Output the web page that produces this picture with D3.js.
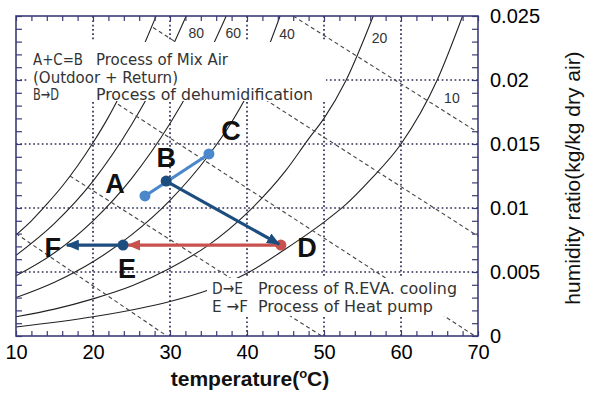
<!DOCTYPE html>
<html>
<head>
<meta charset="utf-8">
<script src="https://cdn.jsdelivr.net/npm/d3@7"></script>
<style>
  body { margin: 0; background: #fff; }
  svg { display: block; font-family: "Liberation Sans", Arial, sans-serif; }
</style>
</head>
<body>
<div id="chart"></div>
<script>
// relative humidity curves, [temperature °C, humidity ratio]
const rh100 = [[10,0.0079],[12,0.0090],[14,0.0103],[16,0.0117],[18,0.0133],[20,0.0151],[22,0.0171],[24,0.0194],[26,0.0219],[28.2,0.0250]];
const rh80  = [[10,0.0063],[15,0.0088],[20,0.0121],[25,0.0165],[28,0.0197],[30,0.0222],[32.1,0.0250]];
const rh60  = [[10,0.0047],[15,0.0065],[20,0.0090],[25,0.0123],[30,0.0166],[33,0.0197],[35,0.0220],[37.3,0.0250]];
const rh40  = [[10,0.0030],[15,0.0042],[20,0.0058],[25,0.0079],[30,0.0106],[35,0.0141],[38,0.0167],[40,0.0188],[42,0.0214],[44.3,0.0250]];
const rh20  = [[10,0.0015],[15,0.0021],[20,0.0029],[25,0.0039],[30,0.0053],[35,0.0071],[40,0.0096],[45,0.0129],[48,0.0154],[50,0.0170],[52.8,0.0199],[56.4,0.0250]];
const rh10  = [[10,0.0007],[20,0.0015],[30,0.0027],[35,0.0036],[40,0.0049],[45,0.0068],[50,0.0089],[52.7,0.0102],[56,0.0122],[60,0.0150],[64.7,0.0200],[68,0.0250]];
const rhCurves = [rh100, rh80, rh60, rh40, rh20, rh10];

const rhLabels = ['80', '60', '40', '20', '10'];

// wet bulb lines (dashed), start and end
const wetBulb = [
  [[46.0,0.0250],[70,0.0159]],
  [[27.8,0.0241],[70,0.0078]],
  [[23.25,0.0181],[69.6,0]],
  [[17.0,0.0125],[49.7,0]],
  [[10.0,0.0080],[29.6,0]]
];

// state points
const stateNames = ['A', 'B', 'C', 'D', 'E', 'F'];
const stateT = [26.75, 29.5, 35.06, 44.4, 23.9, 16.6];
const stateW = [0.01094, 0.0121, 0.01422, 0.0071, 0.0071, 0.0071];

const xTicks = [10, 20, 30, 40, 50, 60, 70];
const yTicks = [0, 0.005, 0.01, 0.015, 0.02, 0.025];

const notesTop = [['A+C=B', 'Process of Mix Air'], ['(Outdoor + Return)', ''], ['B\u2192D', 'Process of dehumidification']];
const notesBottom = [['D\u2192E', 'Process of R.EVA. cooling'], ['E \u2192F', 'Process of Heat pump']];

const svgWidth = 589, svgHeight = 394;
const margin = { top: 16, right: 111, bottom: 58, left: 16 };
const width = svgWidth - margin.left - margin.right,
      height = svgHeight - margin.top - margin.bottom;

const frameColor = '#3b3b78',
      lightBlue = '#4a88cb',
      darkBlue = '#1c4d7e',
      red = '#c8504d';

const svg = d3.select('#chart')
              .append('svg')
              .attr('width', svgWidth)
              .attr('height', svgHeight);

const x = d3.scaleLinear().domain([10, 70]).range([margin.left, margin.left + width]);
const y = d3.scaleLinear().domain([0, 0.025]).range([margin.top + height, margin.top]);

svg.append('clipPath').attr('id', 'plot-clip')
   .append('rect')
   .attr('x', x(10)).attr('y', y(0.025))
   .attr('width', width).attr('height', height);

const plot = svg.append('g').attr('clip-path', 'url(#plot-clip)');

// dotted grid
plot.append('g')
    .selectAll('line')
    .data(xTicks.slice(1, -1))
    .enter().append('line')
    .attr('x1', d => x(d)).attr('x2', d => x(d))
    .attr('y1', y(0)).attr('y2', y(0.025))
    .attr('stroke', '#2f2f5a').attr('stroke-width', 1.7)
    .attr('stroke-dasharray', '1.7,2.6');

plot.append('g')
    .selectAll('line')
    .data(yTicks.slice(1, -1))
    .enter().append('line')
    .attr('x1', x(10)).attr('x2', x(70))
    .attr('y1', d => y(d)).attr('y2', d => y(d))
    .attr('stroke', '#2f2f5a').attr('stroke-width', 1.7)
    .attr('stroke-dasharray', '1.7,2.6');

// RH curves
const line = d3.line()
               .x(d => x(d[0]))
               .y(d => y(d[1]))
               .curve(d3.curveMonotoneX);

plot.append('g')
    .selectAll('path')
    .data(rhCurves)
    .enter().append('path')
    .attr('d', line)
    .attr('fill', 'none')
    .attr('stroke', '#222')
    .attr('stroke-width', 1.1);

// wet bulb lines
plot.append('g')
    .selectAll('path')
    .data(wetBulb)
    .enter().append('path')
    .attr('d', d3.line().x(d => x(d[0])).y(d => y(d[1])))
    .attr('fill', 'none')
    .attr('stroke', '#444')
    .attr('stroke-width', 1.1)
    .attr('stroke-dasharray', '4,3');

// rh labels
const rhLabelPos = [[32.4, 0.0233], [37.2, 0.0233], [44.2, 0.0232], [56.2, 0.0229], [65.6, 0.0182]];
svg.append('g')
   .selectAll('text')
   .data(rhLabels)
   .enter().append('text')
   .attr('x', (d, i) => x(rhLabelPos[i][0]))
   .attr('y', (d, i) => y(rhLabelPos[i][1]))
   .attr('font-size', 14)
   .attr('fill', '#333')
   .text(d => d);

// white boxes behind notes
svg.append('rect').attr('x', 27).attr('y', 42).attr('width', 299).attr('height', 59).attr('fill', '#fff');
svg.append('rect').attr('x', 207).attr('y', 278).attr('width', 254).attr('height', 38).attr('fill', '#fff');

function note(g, s, px, py, len) {
  g.append('text')
   .attr('x', px).attr('y', py)
   .attr('textLength', len)
   .attr('lengthAdjust', 'spacingAndGlyphs')
   .text(s);
}

const noteTop = svg.append('g')
                   .attr('font-size', 16)
                   .attr('font-family', '"DejaVu Sans", sans-serif')
                   .attr('fill', '#333');
const topRows = [65, 82.5, 100];
const topLens = [[50, 132], [145, 0], [26, 217]];
notesTop.forEach((n, i) => {
  note(noteTop, n[0], 33, topRows[i], topLens[i][0]);
  if (n[1]) note(noteTop, n[1], 96, topRows[i], topLens[i][1]);
});

const noteBottom = svg.append('g')
                      .attr('font-size', 16)
                      .attr('font-family', '"DejaVu Sans", sans-serif')
                      .attr('fill', '#333');
const bottomRows = [294, 312];
const bottomLens = [[31, 199], [36, 175]];
notesBottom.forEach((n, i) => {
  note(noteBottom, n[0], 212, bottomRows[i], bottomLens[i][0]);
  note(noteBottom, n[1], 258, bottomRows[i], bottomLens[i][1]);
});

// arrow markers
const defs = svg.append('defs');
[['arrow-dark', darkBlue], ['arrow-red', red]].forEach(([id, c]) => {
  defs.append('marker')
      .attr('id', id)
      .attr('markerUnits', 'userSpaceOnUse')
      .attr('markerWidth', 13).attr('markerHeight', 11)
      .attr('refX', 12).attr('refY', 5.5)
      .attr('orient', 'auto')
      .append('path')
      .attr('d', 'M0,0 L13,5.5 L0,11 Z')
      .attr('fill', c);
});

const P = stateNames.map((n, i) => ({ name: n, px: x(stateT[i]), py: y(stateW[i]) }));
const pt = n => P[stateNames.indexOf(n)];

function shorten(a, b, r) {
  const dx = b.px - a.px, dy = b.py - a.py, len = Math.hypot(dx, dy);
  return { x: b.px - dx / len * r, y: b.py - dy / len * r };
}

const proc = svg.append('g');

// mixing line A - C
proc.append('line')
    .attr('x1', pt('A').px).attr('y1', pt('A').py)
    .attr('x2', pt('C').px).attr('y2', pt('C').py)
    .attr('stroke', lightBlue).attr('stroke-width', 3.2);

// D -> E
const deEnd = shorten(pt('D'), pt('E'), 5);
proc.append('line')
    .attr('x1', pt('D').px).attr('y1', pt('D').py)
    .attr('x2', deEnd.x).attr('y2', deEnd.y)
    .attr('stroke', red).attr('stroke-width', 3.2)
    .attr('marker-end', 'url(#arrow-red)');

// E -> F
proc.append('line')
    .attr('x1', pt('E').px).attr('y1', pt('E').py)
    .attr('x2', pt('F').px).attr('y2', pt('F').py)
    .attr('stroke', darkBlue).attr('stroke-width', 3.2)
    .attr('marker-end', 'url(#arrow-dark)');

const dotColor = { A: lightBlue, B: darkBlue, C: lightBlue, D: red, E: darkBlue };
proc.selectAll('circle')
    .data(P.filter(p => p.name !== 'F'))
    .enter().append('circle')
    .attr('cx', d => d.px).attr('cy', d => d.py)
    .attr('r', 5.5)
    .attr('fill', d => dotColor[d.name]);

// B -> D
const bdEnd = shorten(pt('B'), pt('D'), 2);
proc.append('line')
    .attr('x1', pt('B').px).attr('y1', pt('B').py)
    .attr('x2', bdEnd.x).attr('y2', bdEnd.y)
    .attr('stroke', darkBlue).attr('stroke-width', 3.2)
    .attr('marker-end', 'url(#arrow-dark)');

// point letters
const letterOffset = { A: [-30, -3], B: [0, -14], C: [22, -14], D: [26, 12], E: [4, 33], F: [-14, 12] };
svg.append('g')
   .selectAll('text')
   .data(P)
   .enter().append('text')
   .attr('x', d => d.px + letterOffset[d.name][0])
   .attr('y', d => d.py + letterOffset[d.name][1])
   .attr('text-anchor', 'middle')
   .attr('font-size', 27)
   .attr('font-weight', 'bold')
   .attr('fill', '#111')
   .text(d => d.name);

// frame and inward ticks
const tickStyle = g => {
  g.select('.domain').remove();
  g.selectAll('line').attr('stroke', frameColor).attr('stroke-width', 1.2);
};

svg.append('g').attr('transform', `translate(0,${y(0)})`)
   .call(d3.axisBottom(x).tickValues(d3.range(10, 71, 2)).tickSize(-5).tickFormat(''))
   .call(tickStyle);
svg.append('g').attr('transform', `translate(0,${y(0.025)})`)
   .call(d3.axisTop(x).tickValues(d3.range(10, 71, 2)).tickSize(-5).tickFormat(''))
   .call(tickStyle);
svg.append('g').attr('transform', `translate(${x(10)},0)`)
   .call(d3.axisLeft(y).tickValues(d3.range(0, 26).map(i => i / 1000)).tickSize(-6).tickFormat(''))
   .call(tickStyle);
svg.append('g').attr('transform', `translate(${x(70)},0)`)
   .call(d3.axisRight(y).tickValues(d3.range(0, 26).map(i => i / 1000)).tickSize(-6).tickFormat(''))
   .call(tickStyle);

svg.append('rect')
   .attr('x', x(10)).attr('y', y(0.025))
   .attr('width', width).attr('height', height)
   .attr('fill', 'none')
   .attr('stroke', frameColor)
   .attr('stroke-width', 1.6);

// tick labels
const xAxis = svg.append('g').attr('transform', `translate(0,${y(0)})`)
   .call(d3.axisBottom(x).tickValues(xTicks).tickSize(0).tickPadding(9).tickFormat(d3.format('d')));
xAxis.select('.domain').remove();
xAxis.selectAll('text').attr('font-size', 20).attr('fill', '#000')
     .attr('font-family', '"Liberation Sans", Arial, sans-serif');

const yAxis = svg.append('g').attr('transform', `translate(${x(70)},0)`)
   .call(d3.axisRight(y).tickValues(yTicks).tickSize(0).tickPadding(12).tickFormat(d => d === 0 ? '0' : d3.format('.3~f')(d)));
yAxis.select('.domain').remove();
yAxis.selectAll('text').attr('font-size', 20).attr('fill', '#000')
     .attr('font-family', '"Liberation Sans", Arial, sans-serif');

// axis titles
const xTitle = svg.append('text')
   .attr('x', (x(10) + x(70)) / 2 + 3)
   .attr('y', 386)
   .attr('text-anchor', 'middle')
   .attr('font-size', 21)
   .attr('font-weight', 'bold')
   .attr('fill', '#111');
xTitle.append('tspan').text('temperature(');
xTitle.append('tspan').attr('font-size', 13).attr('dy', -8).text('o');
xTitle.append('tspan').attr('dy', 8).text('C)');

svg.append('text')
   .attr('transform', `translate(580,${(y(0) + y(0.025)) / 2 + 2}) rotate(-90)`)
   .attr('text-anchor', 'middle')
   .attr('font-size', 21)
   .attr('fill', '#111')
   .text('humidity ratio(kg/kg dry air)');
</script>
</body>
</html>
